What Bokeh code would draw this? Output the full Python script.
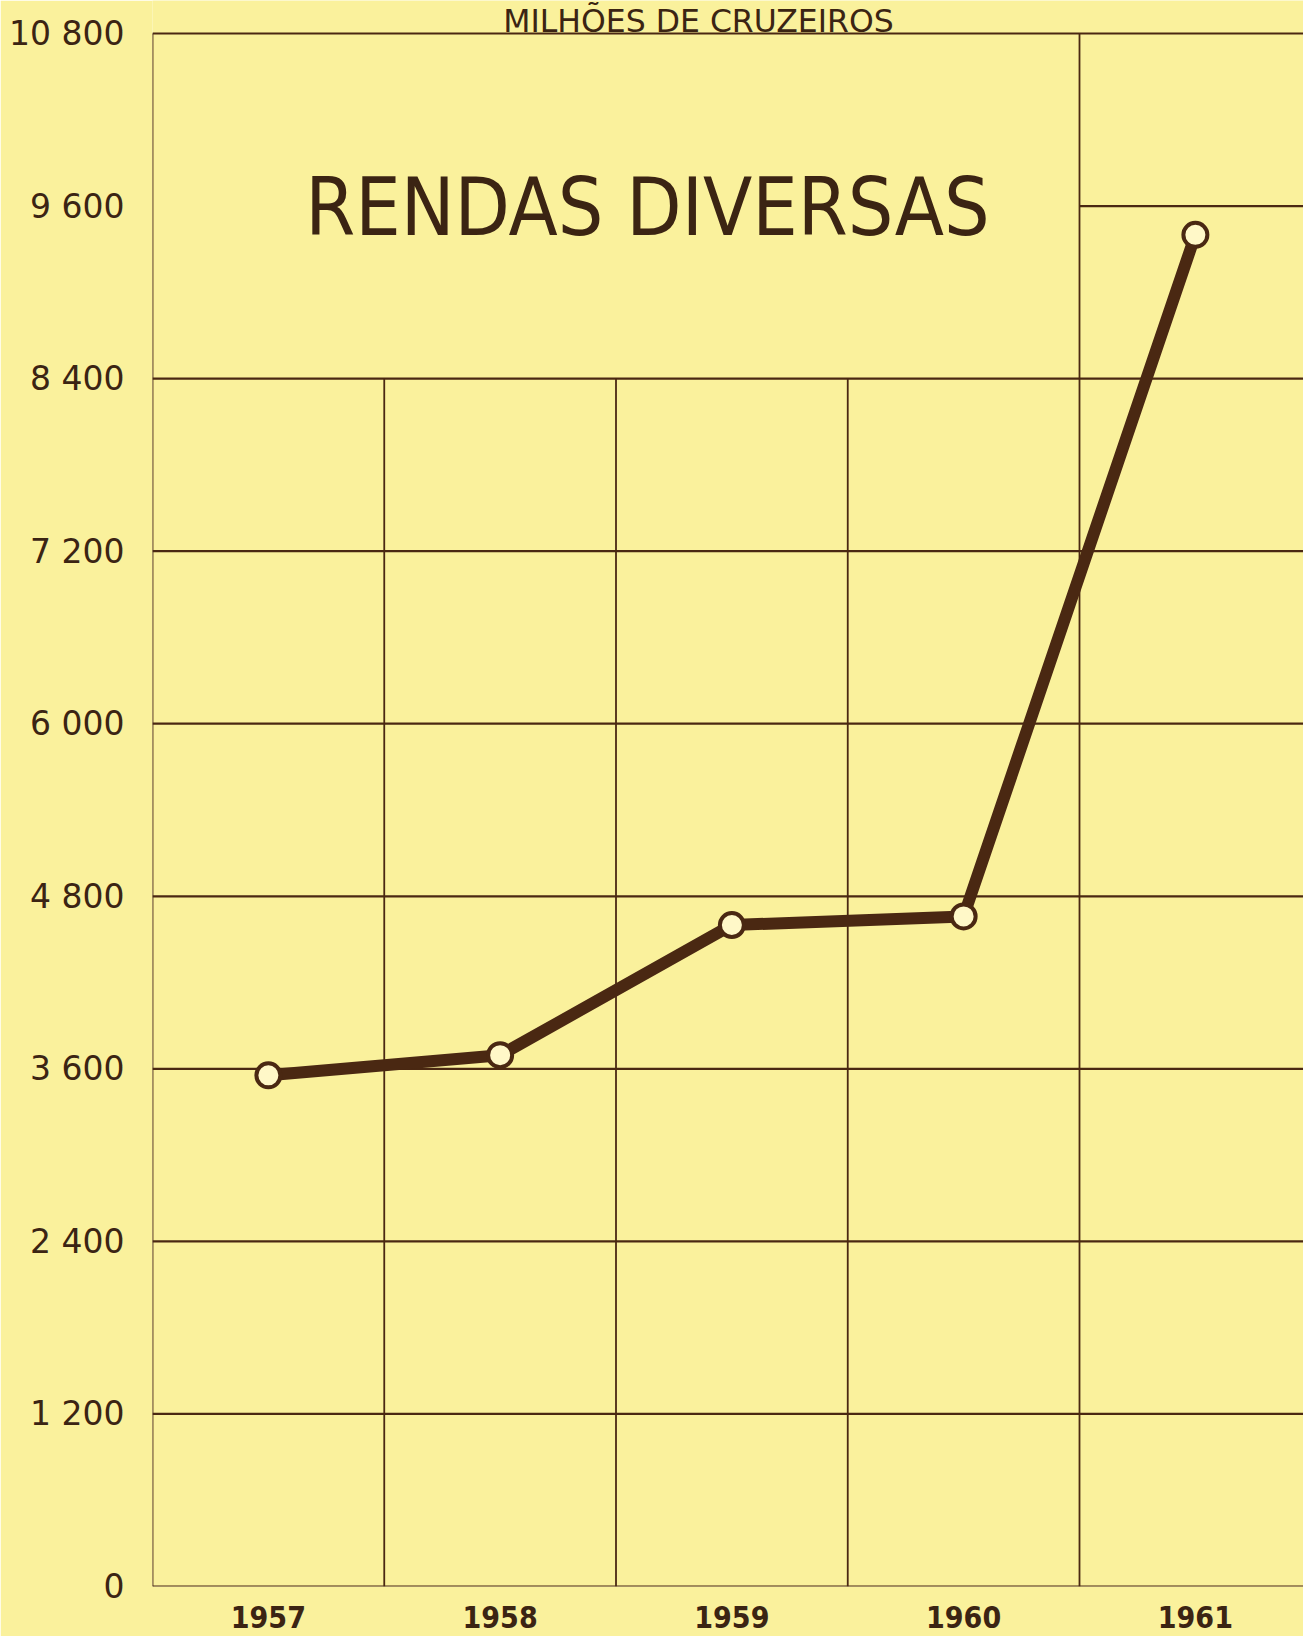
from bokeh.plotting import figure
from bokeh.models import Range1d, FixedTicker, Label, ColumnDataSource
from bokeh.embed import file_html
from bokeh.resources import INLINE

# ---- data ----
years = ["1957", "1958", "1959", "1960", "1961"]
values = [3555, 3695, 4600, 4660, 9400]
y_ticks = [0, 1200, 2400, 3600, 4800, 6000, 7200, 8400, 9600, 10800]
y_tick_labels = ["0", "1 200", "2 400", "3 600", "4 800", "6 000", "7 200", "8 400", "9 600", "10 800"]
title_text = "RENDAS DIVERSAS"
unit_text = "MILHÕES DE CRUZEIROS"

BG = "#FAF19C"
INK = "#4A2812"
TXT = "#3B2413"

W, H = 1303, 1636
LEFT, BOTTOM = 152, 50
TOP_GAP = 33
col_w = 231.75
x_end = -0.5 + (W - LEFT) / col_w
frame_h = H - BOTTOM
y_end = 10800 * frame_h / (frame_h - TOP_GAP)

xs = list(range(len(years)))

p = figure(width=W, height=H, output_backend="svg", toolbar_location=None,
           x_range=Range1d(-0.5, x_end), y_range=Range1d(0, y_end),
           min_border_left=LEFT, min_border_right=0, min_border_top=0,
           min_border_bottom=BOTTOM)
p.background_fill_color = BG
p.border_fill_color = BG
p.outline_line_color = None
p.grid.visible = False

# axes
p.yaxis.ticker = FixedTicker(ticks=y_ticks)
p.yaxis.major_label_overrides = {t: l for t, l in zip(y_ticks, y_tick_labels)}
p.yaxis.axis_line_color = None
p.yaxis.major_tick_line_color = None
p.yaxis.minor_tick_line_color = None
p.yaxis.major_label_standoff = 22
p.yaxis.major_label_text_font = "DejaVu Sans"
p.yaxis.major_label_text_font_size = "33px"
p.yaxis.major_label_text_color = TXT

p.xaxis.ticker = FixedTicker(ticks=xs)
p.xaxis.major_label_overrides = {i: y for i, y in zip(xs, years)}
p.xaxis.axis_line_color = None
p.xaxis.major_tick_line_color = None
p.xaxis.minor_tick_line_color = None
p.xaxis.major_label_standoff = 13
p.xaxis.major_label_text_font = "DejaVu Sans Condensed"
p.xaxis.major_label_text_font_style = "bold"
p.xaxis.major_label_text_font_size = "30px"
p.xaxis.major_label_text_color = TXT

# grid lines (drawn as segments, since the chart's grid is partial)
hx0, hx1, hy = [], [], []
for t in y_ticks:
    if t == 9600:
        hx0.append(len(years) - 1.5)
    else:
        hx0.append(-0.5)
    hx1.append(x_end)
    hy.append(t)
p.segment(x0=hx0, y0=hy, x1=hx1, y1=hy, line_color=INK, line_width=2.2)

vx, vy1 = [-0.5], [y_ticks[-1]]
for i in range(len(years) - 1):
    vx.append(i + 0.5)
    vy1.append(y_ticks[-1] if i == len(years) - 2 else y_ticks[-3])
p.segment(x0=vx, y0=[0] * len(vx), x1=vx, y1=vy1, line_color=INK, line_width=1.8)

# series
src = ColumnDataSource(dict(x=xs, y=values))
p.line("x", "y", source=src, line_color=INK, line_width=12, line_join="round")
p.scatter("x", "y", source=src, size=24, fill_color="#FFF8C8", line_color=INK, line_width=4)

# texts
p.add_layout(Label(x=1.636, y=9590, text=title_text, text_align="center",
                   text_baseline="middle", text_font="DejaVu Sans Condensed",
                   text_font_size="80px", text_color=TXT))
p.add_layout(Label(x=1.856, y=10885, text=unit_text, text_align="center",
                   text_baseline="middle", text_font="DejaVu Sans",
                   text_font_size="31.5px", text_color=TXT))

html = file_html(p, INLINE)
html = html.replace("<body>", '<body style="background-color:%s;">' % BG, 1)
open("out.html", "w").write(html)
